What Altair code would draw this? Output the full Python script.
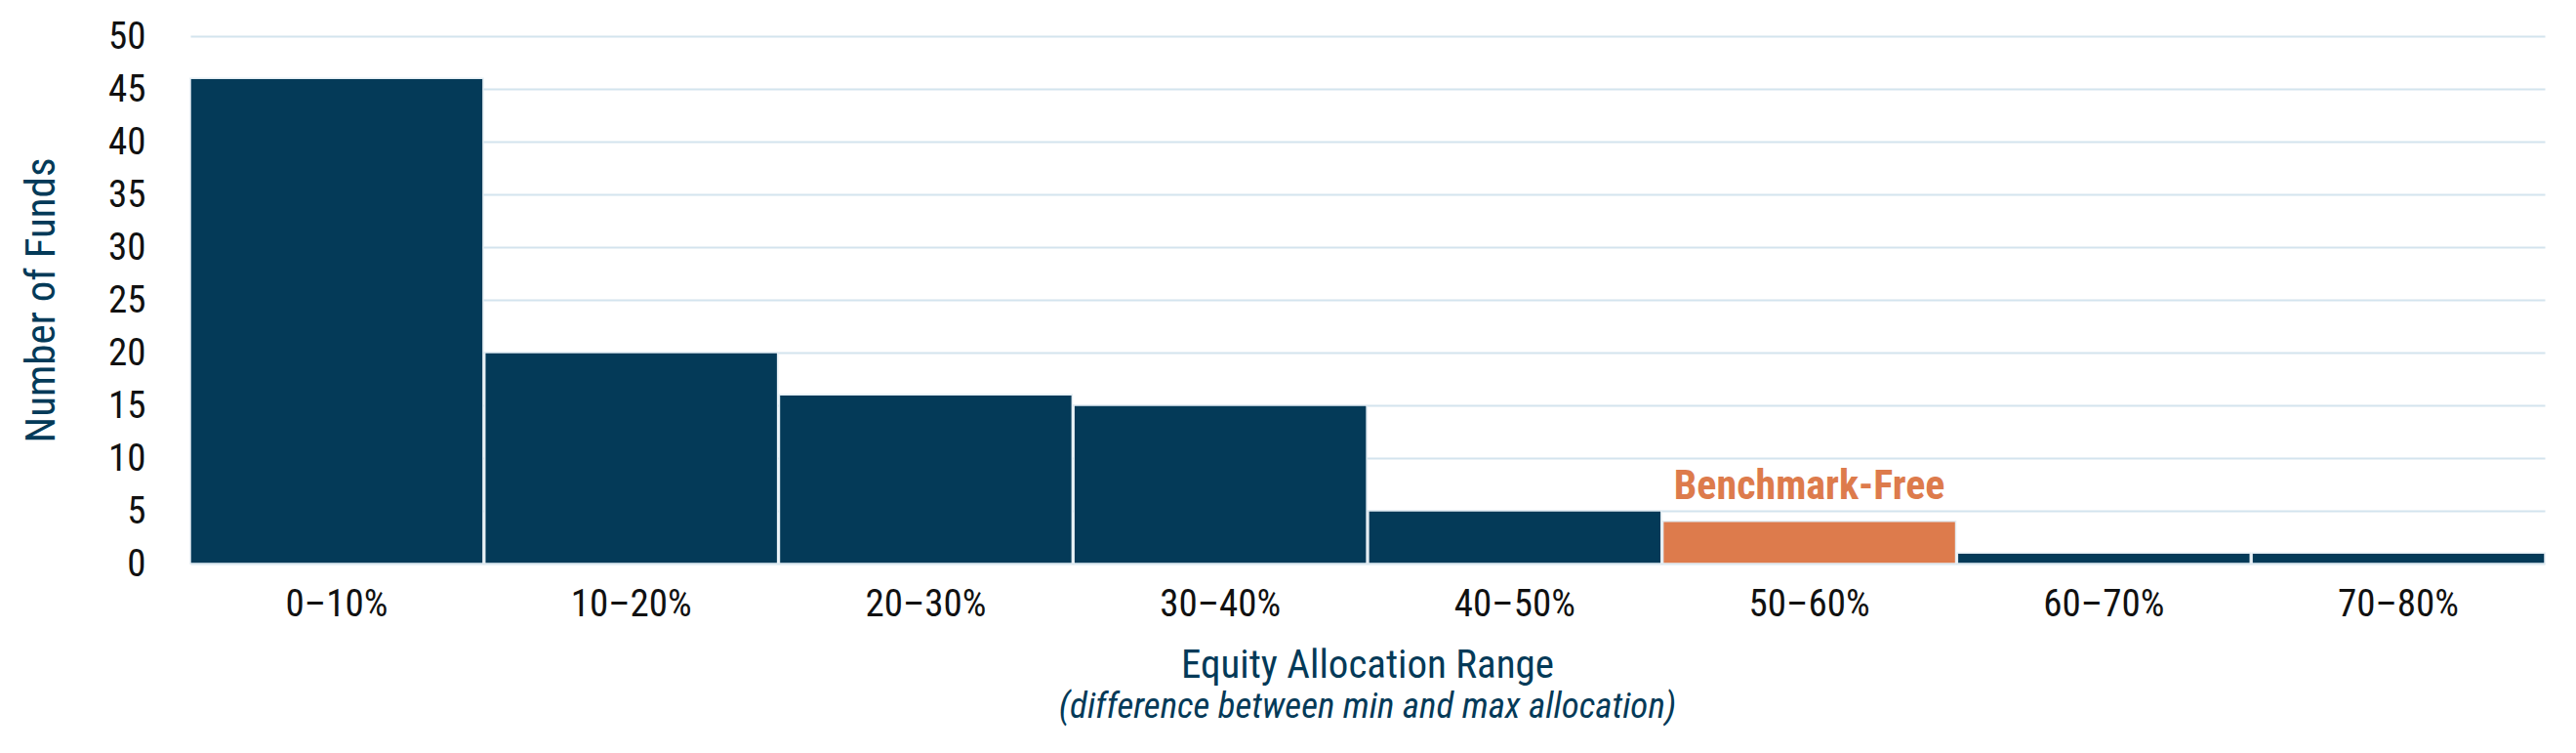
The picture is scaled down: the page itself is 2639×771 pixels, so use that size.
import pandas as pd
import altair as alt

# Data
ranges = ["0–10%", "10–20%", "20–30%", "30–40%", "40–50%", "50–60%", "60–70%", "70–80%"]
funds = [46, 20, 16, 15, 5, 4, 1, 1]
highlight = "50–60%"
highlight_label = "Benchmark-Free"
y_ticks = [0, 5, 10, 15, 20, 25, 30, 35, 40, 45, 50]

NAVY = "#043a58"
ORANGE = "#dd7b4c"
GRID = "#d3e4ee"
FONT = "Roboto Condensed, Liberation Sans Narrow, DejaVu Sans Condensed, Roboto, sans-serif"

d = pd.DataFrame({"range": ranges, "funds": funds})
d["is_bf"] = d["range"] == highlight
d["label"] = [highlight_label if r == highlight else "" for r in ranges]

x = alt.X(
    "range:N",
    sort=ranges,
    scale=alt.Scale(paddingInner=0.006, paddingOuter=0),
    axis=alt.Axis(
        title=None,
        labelAngle=0,
        labelFontSize=39,
        labelColor="#111111",
        labelPadding=22,
        ticks=False,
        domain=False,
    ),
)
y = alt.Y(
    "funds:Q",
    scale=alt.Scale(domain=[0, 50], nice=False),
    axis=alt.Axis(
        title="Number of Funds",
        titleFontSize=43,
        titleFontWeight="normal",
        titleColor=NAVY,
        titlePadding=46,
        values=y_ticks,
        labelFontSize=39,
        labelColor="#111111",
        labelPadding=46,
        ticks=False,
        domain=False,
        gridColor=GRID,
        gridWidth=2,
    ),
)

bars = (
    alt.Chart(d)
    .mark_bar(stroke="#e4edf3", strokeWidth=1.5)
    .encode(
        x=x,
        y=y,
        color=alt.Color(
            "is_bf:N",
            scale=alt.Scale(domain=[False, True], range=[NAVY, ORANGE]),
            legend=None,
        ),
    )
)

label = (
    alt.Chart(d)
    .transform_filter(alt.datum.label != "")
    .mark_text(
        baseline="alphabetic",
        dy=-23,
        fontSize=42,
        fontWeight="bold",
        color=ORANGE,
        font=FONT,
    )
    .encode(x=alt.X("range:N", sort=ranges), y="funds:Q", text="label:N")
)

chart = (
    alt.layer(bars, label)
    .properties(
        width=2412,
        height=540,
        autosize=alt.AutoSizeParams(type="none"),
        padding={"left": 187, "top": 29, "right": 24, "bottom": 186},
        title=alt.TitleParams(
            text="Equity Allocation Range",
            subtitle="(difference between min and max allocation)",
            orient="bottom",
            anchor="middle",
            fontSize=41,
            fontWeight="normal",
            color=NAVY,
            subtitleFontSize=37,
            subtitleFontStyle="italic",
            subtitleColor=NAVY,
            subtitlePadding=3,
            offset=24,
            font=FONT,
            subtitleFont=FONT,
        ),
    )
    .configure(font=FONT)
    .configure_view(stroke=None)
)

chart.save("out.html", embed_options={"renderer": "svg", "actions": False})
